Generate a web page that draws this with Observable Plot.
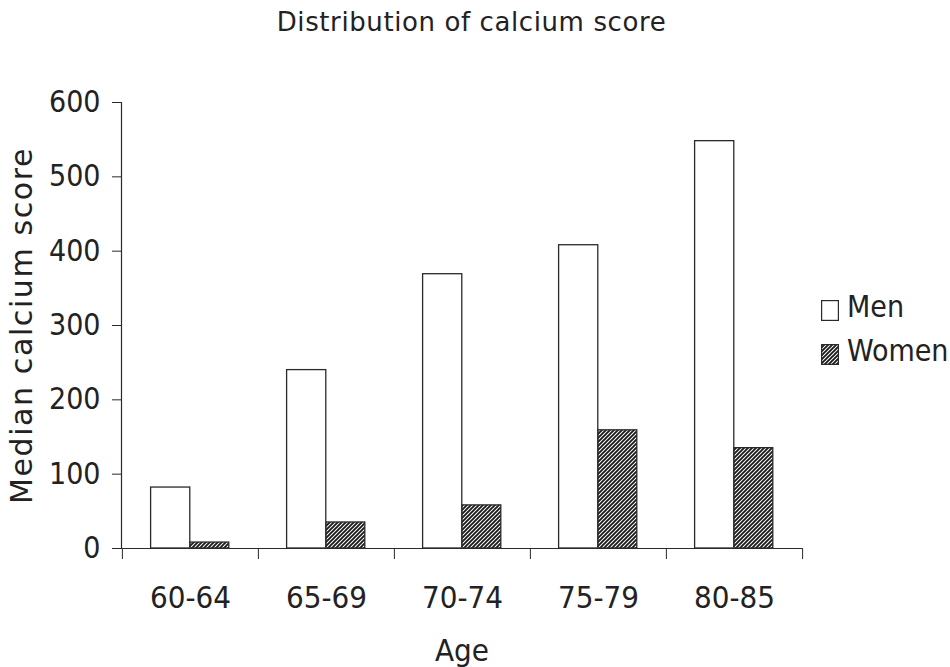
<!DOCTYPE html>
<html>
<head>
<meta charset="utf-8">
<script src="https://cdn.jsdelivr.net/npm/d3@7"></script>
<script src="https://cdn.jsdelivr.net/npm/@observablehq/plot@0.6"></script>
<style>
  body { margin: 0; background: #fff; }
  #chart {
    position: relative; width: 950px; height: 667px;
    font-family: "DejaVu Sans Condensed", "DejaVu Sans", sans-serif;
    font-stretch: condensed; color: #222;
  }
  #chart svg.plot { position: absolute; left: 0; top: 0; }
  #title {
    position: absolute; left: 0; width: 943px; top: 9px;
    text-align: center; font-size: 26px; line-height: 26px;
    font-family: "DejaVu Sans", sans-serif; font-stretch: normal;
    letter-spacing: 0.6px;
  }
  .legend-item {
    position: absolute; left: 821px; font-size: 30px; line-height: 30px;
    display: flex; align-items: flex-end; white-space: nowrap;
  }
  .legend-item svg { margin-right: 8px; margin-bottom: 1px; }
</style>
</head>
<body>
<div id="chart">
  <div id="title">Distribution of calcium score</div>
</div>
<script>
// Median calcium score by age group and sex
const ages = ["60-64", "65-69", "70-74", "75-79", "80-85"];
const men = [82, 240, 369, 408, 548];
const women = [8, 35, 58, 159, 135];
const yTicks = [0, 100, 200, 300, 400, 500, 600];
const series = ["Men", "Women"];

const rows = ages.map((age, i) => ({age, men: men[i], women: women[i]}));

const width = 950, height = 667;
const marginLeft = 121, marginRight = 148, marginTop = 102, marginBottom = 119;
const bw = (width - marginLeft - marginRight) / ages.length;

const ink = "#2a2a2a";

const chart = Plot.plot({
  width, height, marginLeft, marginRight, marginTop, marginBottom,
  style: {
    fontFamily: '"DejaVu Sans Condensed", "DejaVu Sans", sans-serif',
    fontStretch: "condensed",
    fontSize: "31px",
    color: "#222",
    background: "transparent",
    overflow: "visible"
  },
  x: {domain: ages, padding: 0},
  y: {domain: [0, 600]},
  marks: [
    // men: left bar of each group
    Plot.barY(rows, {
      x: "age", y: "men", fill: "white", stroke: ink, strokeWidth: 1.3,
      insetLeft: 28.6, insetRight: bw - 68
    }),
    // women: right bar, hatched
    Plot.barY(rows, {
      x: "age", y: "women", fill: "url(#hatch)", stroke: ink, strokeWidth: 1.3,
      insetLeft: 68, insetRight: bw - 107
    }),
    Plot.ruleY([0], {stroke: ink, strokeWidth: 1.2}),
    Plot.frame({anchor: "left", stroke: ink, strokeWidth: 1.2}),
    Plot.axisY({
      ticks: yTicks, tickSize: 9, tickPadding: 12, stroke: ink,
      label: "Median calcium score", labelAnchor: "center", labelArrow: "none",
      labelOffset: 111, fontSize: 30
    }),
    // category labels centred under each group
    Plot.axisX({
      tickSize: 0, tickPadding: 37,
      label: "Age", labelAnchor: "center", labelArrow: "none", labelOffset: 112, fontSize: 31
    }),
    // boundary ticks between groups
    Plot.axisX({tickSize: 11, tickFormat: () => "", label: null, dx: -bw / 2, stroke: ink}),
    Plot.axisX({ticks: [ages[ages.length - 1]], tickSize: 11, tickFormat: () => "", label: null, dx: bw / 2, stroke: ink})
  ]
});
chart.classList.add("plot");

// the vertical axis title is set a little wider than the tick labels
d3.select(chart).selectAll("g[aria-label='y-axis label'] text")
  .style("font-family", '"DejaVu Sans", sans-serif')
  .style("font-stretch", "normal")
  .style("letter-spacing", "1.6px");

// diagonal hatch used for the women's bars and legend swatch
const defs = d3.select(chart).insert("defs", ":first-child");
const pat = defs.append("pattern")
  .attr("id", "hatch").attr("patternUnits", "userSpaceOnUse")
  .attr("width", 4).attr("height", 4);
pat.append("rect").attr("width", 4).attr("height", 4).attr("fill", "white");
pat.append("path")
  .attr("d", "M-1,1 l2,-2 M0,4 l4,-4 M3,5 l2,-2")
  .attr("stroke", "#1a1a1a").attr("stroke-width", 1.9);

const root = document.getElementById("chart");
root.appendChild(chart);

// legend
const legendTops = [292, 336];
series.forEach((name, i) => {
  const item = document.createElement("div");
  item.className = "legend-item";
  item.style.top = legendTops[i] + "px";
  const sw = d3.create("svg").attr("width", 18).attr("height", 21);
  sw.append("rect").attr("x", 0.6).attr("y", 0.6).attr("width", 16.8).attr("height", 19.8)
    .attr("fill", i === 0 ? "white" : "url(#hatch)")
    .attr("stroke", ink).attr("stroke-width", 1.2);
  item.appendChild(sw.node());
  const t = document.createElement("span");
  t.textContent = name;
  item.appendChild(t);
  root.appendChild(item);
});
</script>
</body>
</html>
